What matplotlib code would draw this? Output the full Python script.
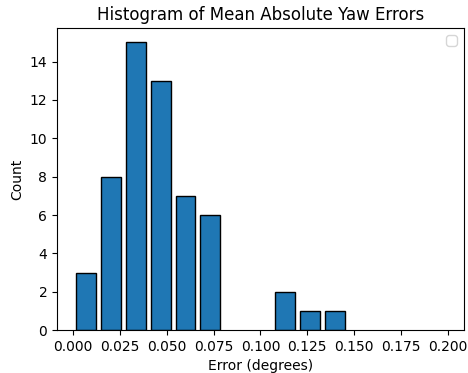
import numpy as np
import matplotlib
matplotlib.use('Agg')
import matplotlib.pyplot as plt

# histogram counts per bin, 15 bins over 0..0.2 degrees
bin_edges = np.linspace(0, 0.2, 16)
counts = [3, 8, 15, 13, 7, 6, 0, 0, 2, 1, 1, 0, 0, 0, 0]
bin_centers = (bin_edges[:-1] + bin_edges[1:]) / 2

fig, ax = plt.subplots(figsize=(4.68, 3.73), dpi=100)
n, bins, patches = ax.hist(bin_centers, bins=bin_edges, weights=counts,
                           rwidth=0.8, edgecolor='black')
# empty bins have no visible outline in the original
for c, p in zip(counts, patches):
    if c == 0:
        p.set_visible(False)

ax.set_title('Histogram of Mean Absolute Yaw Errors')
ax.set_xlabel('Error (degrees)')
ax.set_ylabel('Count')
ax.legend()

fig.subplots_adjust(left=0.122, right=0.991, top=0.925, bottom=0.115)
fig.savefig('out.png')
